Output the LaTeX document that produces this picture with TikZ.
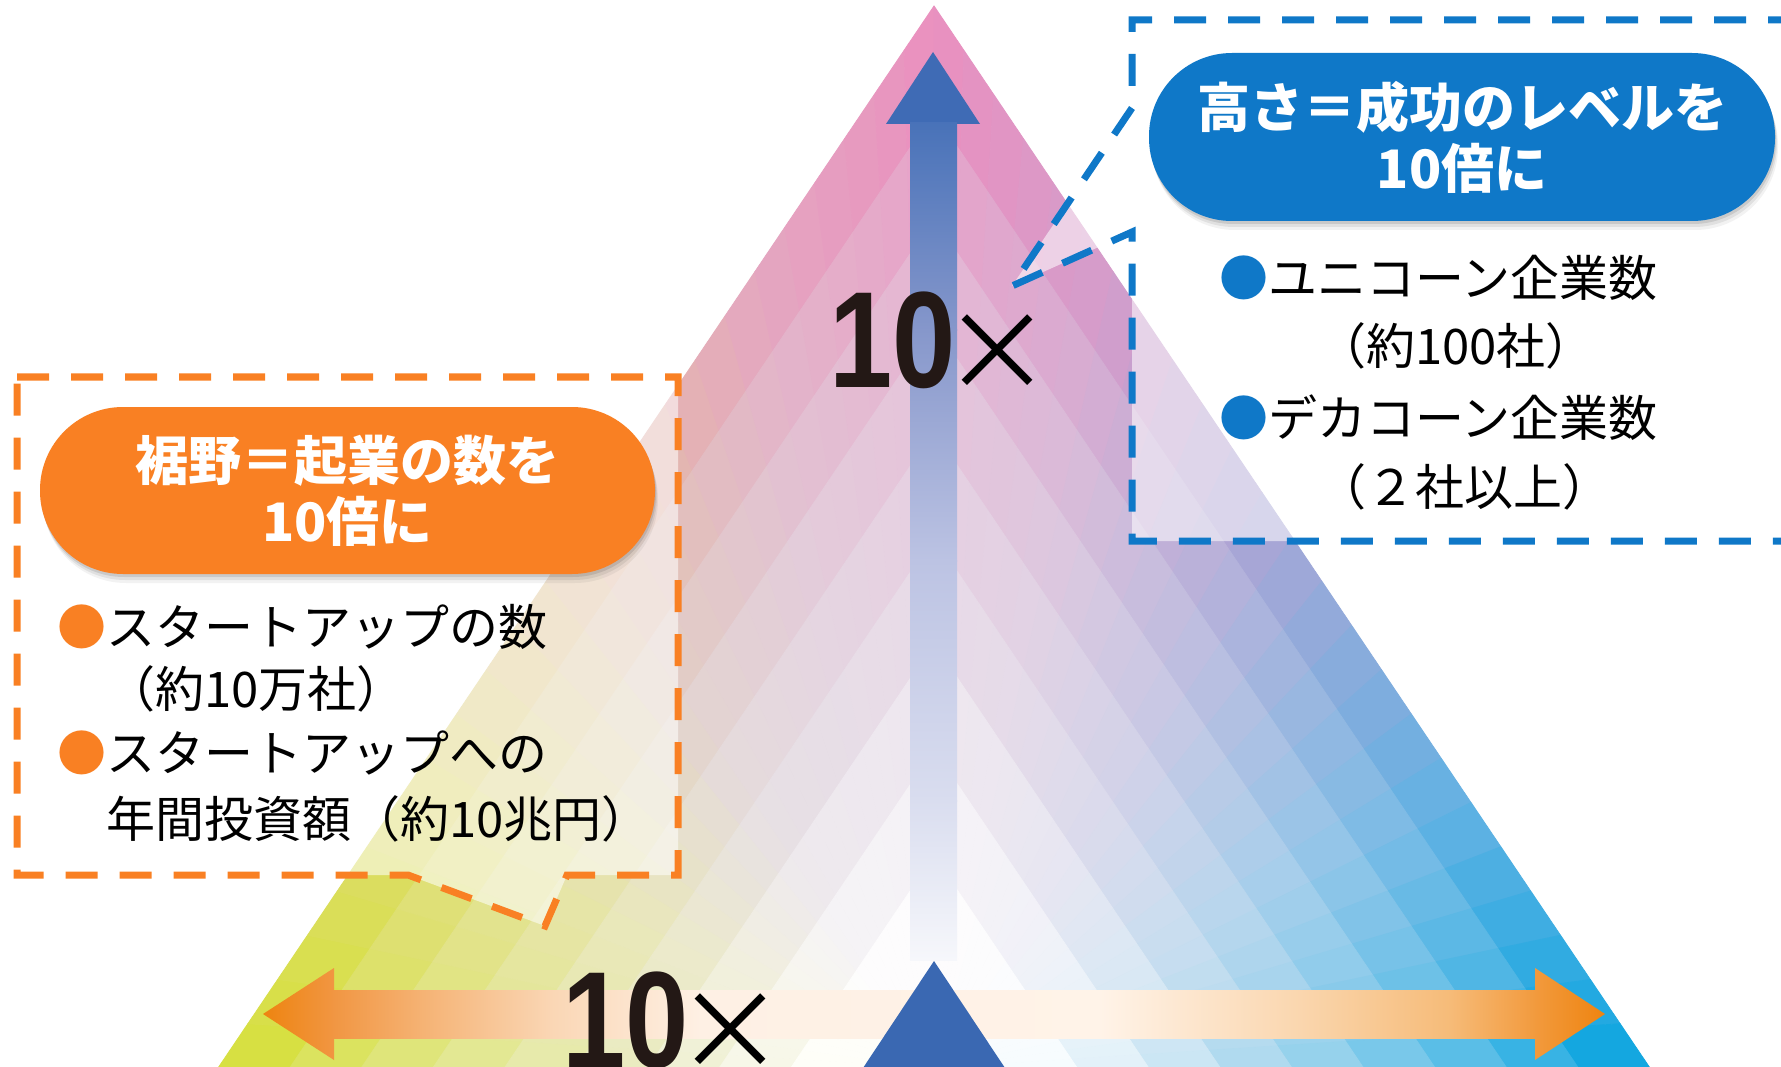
\documentclass[tikz,border=0pt]{standalone}
\usepackage{fontspec}
\setmainfont{Liberation Sans}
\newfontfamily\jp{Noto Sans CJK JP}
\newfontfamily\numfont{Liberation Sans}[FakeStretch=0.83]
\definecolor{textblack}{HTML}{231815}
\definecolor{oC}{HTML}{F98023}
\definecolor{bC}{HTML}{0F78C8}
\definecolor{upHead}{HTML}{3F6BB5}
\definecolor{triC}{HTML}{3A68B2}
\definecolor{lavg}{HTML}{BDB6CC}
\definecolor{lavw}{HTML}{F2F0F5}
\definecolor{a0}{HTML}{D6E13E}
\definecolor{a1}{HTML}{DDDB6A}
\definecolor{a2}{HTML}{E3C0A6}
\definecolor{a3}{HTML}{E4A7C0}
\definecolor{a4}{HTML}{EA90BF}
\definecolor{a5}{HTML}{D49DCB}
\definecolor{a6}{HTML}{A3A7D7}
\definecolor{a7}{HTML}{63B2E3}
\definecolor{a8}{HTML}{0DA6E0}
\newsavebox\timesbox
\newcommand\tenlabel{{\numfont\bfseries\fontsize{137}{137}\selectfont 10}\kern\dimexpr41.6pt-0.5\wd\timesbox\relax\raisebox{\dimexpr35pt-(\ht\timesbox-\dp\timesbox)/2\relax}{\usebox\timesbox}}
\begin{document}
\sbox\timesbox{\jp\fontsize{110}{110}\selectfont ×}%
\begin{tikzpicture}[x=1pt,y=-1pt,
  callout/.style={line width=7pt, dash pattern=on 32pt off 22pt, fill=white, fill opacity=0.55, line join=miter},
  pill/.style={rounded corners=83pt, inner sep=0pt, text=white, align=center,
    font=\jp\bfseries\fontsize{53}{61}\selectfont},
  bul/.style={anchor=base west, inner sep=0pt, font=\jp\fontsize{49}{49}\selectfont, text=black},
  bignum/.style={anchor=base west, inner sep=0pt, text=textblack}]
\useasboundingbox (0,0) rectangle (1781,1067);
\clip (0,0) rectangle (1781,1067);
\fill[white] (0,0) rectangle (1781,1067);
% nested gradient triangle
\foreach \bk in {0,...,8}{%
  \pgfmathsetmacro\s{1-\bk/10}%
  \pgfmathsetmacro\q{100*(1-\bk/9)^1.5}%
  \pgfmathsetmacro\pk{100-11*\bk}%
  \pgfmathsetmacro\pt{100*min(1,(8-\bk)/3)}%
  \colorlet{wt}{lavw!\pt!white}%
  \colorlet{b0}{a0}\colorlet{b1}{a1}\colorlet{b2}{a2!\pk!lavg}%
  \colorlet{b3}{a3!\pk!lavg}\colorlet{b4}{a4!\pk!lavg}\colorlet{b5}{a5!\pk!lavg}%
  \colorlet{b6}{a6}\colorlet{b7}{a7}\colorlet{b8}{a8}%
  \foreach \i in {0,...,47}{%
    \pgfmathsetmacro\tm{(\i+0.5)/6}%
    \pgfmathtruncatemacro\cj{floor(\tm)}%
    \pgfmathtruncatemacro\cjj{\cj+1}%
    \pgfmathsetmacro\f{100*(\cjj-\tm)}%
    \colorlet{sc}{b\cj!\f!b\cjj}%
    \colorlet{fc}{sc!\q!wt}%
    \pgfmathsetmacro\ua{mod(\i,24)/24}%
    \pgfmathsetmacro\ub{(mod(\i,24)+1)/24}%
    \ifnum\i<24
      \filldraw[fill=fc, draw=fc, line width=0.8pt, line join=round] (934,1068) -- ({934-716*\s*(1-\ua)},{1068-1062*\s*\ua}) -- ({934-716*\s*(1-\ub)},{1068-1062*\s*\ub}) -- cycle;
    \else
      \filldraw[fill=fc, draw=fc, line width=0.8pt, line join=round] (934,1068) -- ({934+716*\s*\ua},{1068-1062*\s*(1-\ua)}) -- ({934+716*\s*\ub},{1068-1062*\s*(1-\ub)}) -- cycle;
    \fi
  }%
}
% upward arrow
\fill[upHead] (886,124) -- (933,52) -- (980,124) -- cycle;
\shade[top color=upHead!95!white, bottom color={rgb,255:red,134;green,151;blue,203}] (910,123) rectangle (957,331);
\shade[top color={rgb,255:red,134;green,151;blue,203}, bottom color={rgb,255:red,188;green,195;blue,227}] (910,330) rectangle (957,561);
\shade[top color={rgb,255:red,188;green,195;blue,227}, bottom color={rgb,255:red,217;green,221;blue,239}] (910,560) rectangle (957,801);
\shade[top color={rgb,255:red,217;green,221;blue,239}, bottom color={rgb,255:red,246;green,247;blue,251}] (910,800) rectangle (957,960);
% upper 10x
\node[bignum] (tenA) at (829,388) {\tenlabel};
% orange double arrow
\shade[left color={rgb,255:red,238;green,132;blue,16}, right color={rgb,255:red,241;green,150;blue,66}] (263,1014) -- (334,968) -- (334,1060) -- cycle;
\shade[left color={rgb,255:red,241;green,150;blue,66}, right color={rgb,255:red,245;green,178;blue,115}] (333,990) rectangle (421,1038);
\shade[left color={rgb,255:red,245;green,178;blue,115}, right color={rgb,255:red,250;green,214;blue,180}] (420,990) rectangle (551,1038);
\shade[left color={rgb,255:red,250;green,214;blue,180}, right color={rgb,255:red,254;green,240;blue,228}] (550,990) rectangle (701,1038);
\shade[left color={rgb,255:red,254;green,240;blue,228}, middle color={rgb,255:red,255;green,252;blue,249}, right color={rgb,255:red,255;green,243;blue,232}] (700,990) rectangle (1101,1038);
\shade[left color={rgb,255:red,255;green,243;blue,232}, right color={rgb,255:red,250;green,214;blue,174}] (1100,990) rectangle (1301,1038);
\shade[left color={rgb,255:red,250;green,214;blue,174}, right color={rgb,255:red,246;green,187;blue,120}] (1300,990) rectangle (1451,1038);
\shade[left color={rgb,255:red,246;green,187;blue,120}, right color={rgb,255:red,242;green,154;blue,61}] (1450,990) rectangle (1536,1038);
\shade[left color={rgb,255:red,242;green,154;blue,61}, right color={rgb,255:red,238;green,132;blue,16}] (1535,968) -- (1605,1014) -- (1535,1060) -- cycle;
% lower 10x
\node[bignum] (tenB) at (562,1067) {\tenlabel};
% small blue triangle
\fill[triC] (863,1068) -- (934,961) -- (1005,1068) -- cycle;
% orange callout
\path[callout, draw=oC] (17,377) -- (678,377) -- (678,875) -- (567,875) -- (545,926) -- (408,875) -- (17,875) -- cycle;
% blue callout
\path[callout, draw=bC] (1800,20) -- (1132,20) -- (1132,108) -- (1012,286) -- (1132,232) -- (1132,541) -- (1800,541);
% pill shadows
\foreach \dx/\dy/\op in {1/3/0.10,2/6/0.07,3/9/0.05}{
  \fill[black, opacity=\op, rounded corners=83pt] (40+\dx,407+\dy) rectangle ++(615,167);
  \fill[black, opacity=\op, rounded corners=83pt] (1149+\dx,53+\dy) rectangle ++(626,168);
}
% pills
\node[pill, fill=oC, minimum width=615pt, minimum height=167pt] (pillO) at (347.5,490.5) {裾野＝起業の数を\\10倍に};
\node[pill, fill=bC, minimum width=626pt, minimum height=168pt] (pillB) at (1462,137) {高さ＝成功のレベルを\\10倍に};
% orange bullets
\node[bul] (o1) at (57,645) {\textcolor{oC}{●}スタートアップの数};
\node[bul] (o2) at (106,707) {（約10万社）};
\node[bul] (o3) at (57,771) {\textcolor{oC}{●}スタートアップへの};
\node[bul] (o4) at (106,837) {年間投資額（約10兆円）};
% blue bullets
\node[bul] (b1) at (1219,297) {\textcolor{bC}{●}ユニコーン企業数};
\node[bul] (b2) at (1317,365) {（約100社）};
\node[bul] (b3) at (1219,436) {\textcolor{bC}{●}デカコーン企業数};
\node[bul] (b4) at (1317,505) {（２社以上）};
\end{tikzpicture}
\end{document}
